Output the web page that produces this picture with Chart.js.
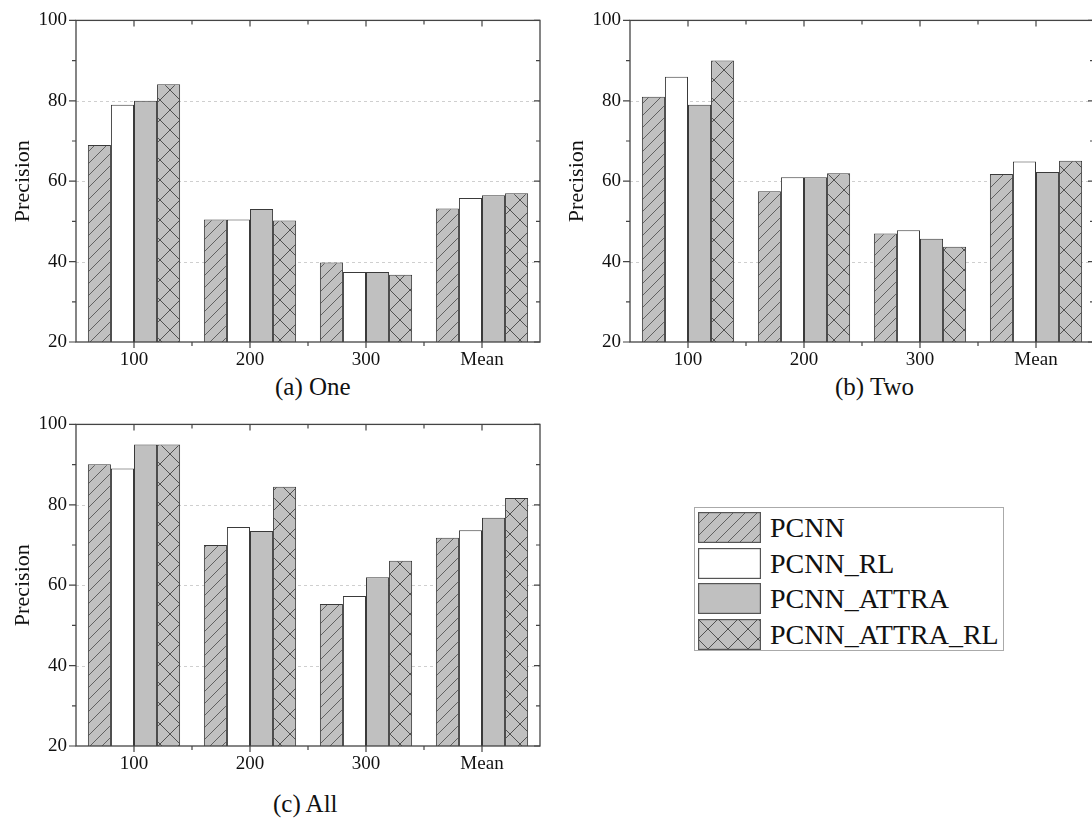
<!DOCTYPE html>
<html>
<head>
<meta charset="utf-8">
<script src="https://cdn.jsdelivr.net/npm/chart.js@4.4.0/dist/chart.umd.min.js"></script>
<style>
  html, body { margin:0; padding:0; background:#fff; width:1092px; height:820px; overflow:hidden; }
  .box { position:absolute; }
  .cap { position:absolute; font-family:"Liberation Serif","DejaVu Serif",serif; font-size:25px; color:#111; white-space:nowrap; }
  #legend { position:absolute; left:694px; top:507px; width:310px; height:144px; border:1px solid #aaa; box-sizing:border-box; }
  .lrow { position:absolute; left:3px; height:31px; }
  .lrow canvas { position:absolute; left:0; top:0; }
  .lrow span { position:absolute; left:72px; top:-2px; font-family:"Liberation Serif","DejaVu Serif",serif; font-size:28px; line-height:35px; color:#111; white-space:nowrap; }
</style>
</head>
<body>
<div class="box" style="left:0;top:0;width:560px;height:372px;"><canvas id="cA"></canvas></div>
<div class="box" style="left:554px;top:0;width:542px;height:372px;"><canvas id="cB"></canvas></div>
<div class="box" style="left:0;top:404px;width:560px;height:372px;"><canvas id="cC"></canvas></div>
<div class="cap" style="left:275px;top:373px;">(a) One</div>
<div class="cap" style="left:835px;top:373px;">(b) Two</div>
<div class="cap" style="left:273px;top:790px;">(c) All</div>
<div id="legend"></div>
<script>
// ---------- data ----------
const categories = ['100', '200', '300', 'Mean'];
const seriesNames = ['PCNN', 'PCNN_RL', 'PCNN_ATTRA', 'PCNN_ATTRA_RL'];

const onePCNN        = [69.0, 50.5, 39.8, 53.2];
const onePCNN_RL     = [79.0, 50.5, 37.4, 55.8];
const onePCNN_ATTRA  = [80.0, 53.1, 37.4, 56.5];
const onePCNN_ATTRA_RL = [84.1, 50.2, 36.7, 57.0];

const twoPCNN        = [81.0, 57.5, 47.0, 61.8];
const twoPCNN_RL     = [86.0, 61.0, 47.8, 64.9];
const twoPCNN_ATTRA  = [79.0, 61.0, 45.7, 62.3];
const twoPCNN_ATTRA_RL = [90.0, 62.0, 43.7, 65.1];

const allPCNN        = [90.1, 70.0, 55.3, 71.8];
const allPCNN_RL     = [89.0, 74.5, 57.3, 73.7];
const allPCNN_ATTRA  = [95.0, 73.5, 62.0, 76.8];
const allPCNN_ATTRA_RL = [95.0, 84.5, 66.1, 81.7];

const yTicks = [20, 40, 60, 80, 100];
const yMinor = [30, 50, 70, 90];
const gridValues = [40, 60, 80];
const yAxisTitle = 'Precision';

const SERIF = '"Liberation Serif", "DejaVu Serif", serif';

// ---------- patterns ----------
const GREY = '#c0c0c0';
function hatchPattern(ctx) {
  const t = document.createElement('canvas'); t.width = 12; t.height = 12;
  const g = t.getContext('2d');
  g.fillStyle = GREY; g.fillRect(0,0,12,12);
  g.strokeStyle = '#555'; g.lineWidth = 0.9;
  g.beginPath();
  g.moveTo(0,12); g.lineTo(12,0);
  g.moveTo(-2,2); g.lineTo(2,-2);
  g.moveTo(10,14); g.lineTo(14,10);
  g.stroke();
  return ctx.createPattern(t, 'repeat');
}
function crossPattern(ctx) {
  const s = 20;
  const t = document.createElement('canvas'); t.width = s; t.height = s;
  const g = t.getContext('2d');
  g.fillStyle = GREY; g.fillRect(0,0,s,s);
  g.strokeStyle = '#444'; g.lineWidth = 0.9;
  g.beginPath();
  g.moveTo(0,s); g.lineTo(s,0);
  g.moveTo(0,0); g.lineTo(s,s);
  g.stroke();
  return ctx.createPattern(t, 'repeat');
}
const tmpCtx = document.createElement('canvas').getContext('2d');
const fills = [hatchPattern(tmpCtx), '#ffffff', GREY, crossPattern(tmpCtx)];

// ---------- frame plugin ----------
const framePlugin = {
  id: 'frame',
  beforeDatasetsDraw(chart) {
    const {ctx, chartArea: a, scales: {y}} = chart;
    ctx.save();
    ctx.strokeStyle = '#cfcfcf'; ctx.lineWidth = 1; ctx.setLineDash([3,3]);
    gridValues.forEach(v => {
      const py = Math.round(y.getPixelForValue(v)) + 0.5;
      ctx.beginPath(); ctx.moveTo(a.left, py); ctx.lineTo(a.right, py); ctx.stroke();
    });
    ctx.restore();
  },
  afterDatasetsDraw(chart) {
    const {ctx, chartArea: a, scales: {x, y}} = chart;
    ctx.save();
    ctx.strokeStyle = '#444'; ctx.lineWidth = 1.3;
    ctx.strokeRect(a.left, a.top, a.right - a.left, a.bottom - a.top);
    ctx.lineWidth = 1.2;
    ctx.beginPath();
    yTicks.forEach(v => {
      const py = y.getPixelForValue(v);
      ctx.moveTo(a.left - 7, py); ctx.lineTo(a.left, py);
      ctx.moveTo(a.right, py); ctx.lineTo(a.right - 6, py);
    });
    yMinor.forEach(v => {
      const py = y.getPixelForValue(v);
      ctx.moveTo(a.left - 4, py); ctx.lineTo(a.left, py);
      ctx.moveTo(a.right, py); ctx.lineTo(a.right - 4, py);
    });
    const n = categories.length;
    for (let i = 0; i < n; i++) {
      const px = x.getPixelForValue(i);
      ctx.moveTo(px, a.bottom); ctx.lineTo(px, a.bottom + 6);
      ctx.moveTo(px, a.top); ctx.lineTo(px, a.top + 6);
      if (i < n - 1) {
        const mx = (x.getPixelForValue(i) + x.getPixelForValue(i + 1)) / 2;
        ctx.moveTo(mx, a.bottom); ctx.lineTo(mx, a.bottom + 4);
        ctx.moveTo(mx, a.top); ctx.lineTo(mx, a.top + 4);
      }
    }
    ctx.stroke();
    ctx.restore();
  }
};

function makeChart(id, seriesData, rightPad) {
  const datasets = seriesData.map((d, i) => ({
    label: seriesNames[i],
    data: d,
    backgroundColor: fills[i],
    borderColor: '#3a3a3a',
    borderWidth: 1,
    borderSkipped: 'bottom',
    barPercentage: 1.0,
    categoryPercentage: 0.795
  }));
  return new Chart(document.getElementById(id), {
    type: 'bar',
    data: { labels: categories, datasets },
    options: {
      responsive: true,
      maintainAspectRatio: false,
      animation: false,
      layout: { padding: { top: 19, right: rightPad, left: 0, bottom: 0 } },
      plugins: { legend: { display: false }, tooltip: { enabled: false } },
      scales: {
        x: {
          grid: { display: false, drawTicks: false },
          border: { display: false },
          ticks: { color: '#111', padding: 7, font: { family: SERIF, size: 19 } },
          afterFit(s) { s.height = 30; }
        },
        y: {
          min: 20, max: 100,
          afterBuildTicks(s) { s.ticks = yTicks.map(v => ({ value: v })); },
          grid: { display: false, drawTicks: false },
          border: { display: false },
          ticks: { color: '#111', padding: 9, font: { family: SERIF, size: 19 } },
          title: { display: true, text: yAxisTitle, color: '#111', padding: { top: 10, bottom: 0 },
                   font: { family: SERIF, size: 22 } },
          afterFit(s) { s.width = 76; }
        }
      }
    },
    plugins: [framePlugin]
  });
}

makeChart('cA', [onePCNN, onePCNN_RL, onePCNN_ATTRA, onePCNN_ATTRA_RL], 20);
makeChart('cB', [twoPCNN, twoPCNN_RL, twoPCNN_ATTRA, twoPCNN_ATTRA_RL], 2);
makeChart('cC', [allPCNN, allPCNN_RL, allPCNN_ATTRA, allPCNN_ATTRA_RL], 20);

// ---------- legend ----------
const legend = document.getElementById('legend');
seriesNames.forEach((name, i) => {
  const row = document.createElement('div');
  row.className = 'lrow';
  row.style.top = (4 + i * 35.5) + 'px';
  const c = document.createElement('canvas');
  c.width = 63; c.height = 31;
  const g = c.getContext('2d');
  const f = i === 0 ? hatchPattern(g) : i === 3 ? crossPattern(g) : fills[i];
  g.fillStyle = f; g.fillRect(0, 0, 63, 31);
  g.strokeStyle = '#555'; g.lineWidth = 1.2; g.strokeRect(0.6, 0.6, 61.8, 29.8);
  const sp = document.createElement('span');
  sp.textContent = name;
  row.appendChild(c); row.appendChild(sp);
  legend.appendChild(row);
});
</script>
</body>
</html>
